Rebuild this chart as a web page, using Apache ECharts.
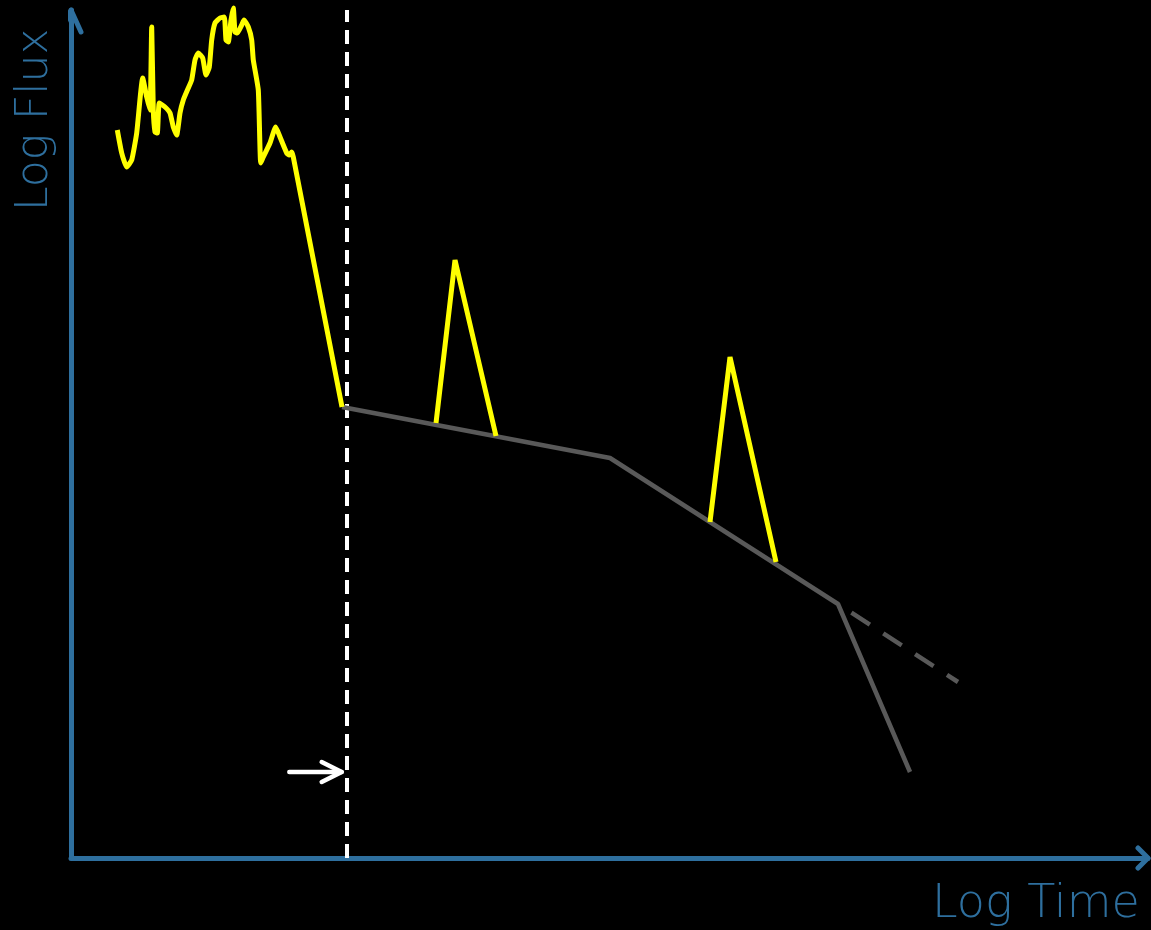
<!DOCTYPE html>
<html>
<head>
<meta charset="utf-8">
<title>Log Flux vs Log Time</title>
<script src="https://cdn.jsdelivr.net/npm/echarts@6/dist/echarts.min.js"></script>
<style>
  html, body { margin: 0; padding: 0; background: #000; }
  #chart { width: 1151px; height: 930px; }
</style>
</head>
<body>
<div id="chart"></div>
<script>
// Schematic light curve: log time on x, log flux on y (arbitrary units).
const X_MAX = 10.77;
const Y_MAX = 8.48;

// Prompt emission: erratic, spiky yellow curve followed by the steep decay.
const promptTime = [0.463, 0.507, 0.557, 0.607, 0.657, 0.717, 0.757, 0.79, 0.807, 0.823, 0.84, 0.863, 0.883, 0.94, 0.99, 1.023, 1.057, 1.09, 1.123, 1.173, 1.207, 1.24, 1.273, 1.317, 1.35, 1.383, 1.407, 1.44, 1.49, 1.533, 1.55, 1.573, 1.60, 1.623, 1.64, 1.663, 1.707, 1.73, 1.773, 1.807, 1.823, 1.873, 1.897, 1.923, 1.99, 2.047, 2.09, 2.157, 2.183, 2.207, 2.223, 2.71];
const promptFlux = [7.28, 7.05, 6.91, 6.98, 7.25, 7.80, 7.61, 7.48, 8.31, 7.48, 7.26, 7.25, 7.55, 7.51, 7.45, 7.31, 7.23, 7.45, 7.58, 7.70, 7.78, 7.98, 8.05, 8.00, 7.83, 7.91, 8.18, 8.35, 8.40, 8.41, 8.18, 8.16, 8.38, 8.50, 8.26, 8.25, 8.33, 8.38, 8.31, 8.18, 7.98, 7.68, 6.95, 7.01, 7.15, 7.31, 7.21, 7.05, 7.03, 7.06, 7.01, 4.51];

// Afterglow: broken power law (plateau, normal decay, jet break).
const afterglowTime = [2.71, 5.39, 7.67, 8.39];
const afterglowFlux = [4.51, 4.00, 2.54, 0.86];

// Continuation of the normal decay without a jet break.
const noBreakTime = [7.67, 8.87];
const noBreakFlux = [2.54, 1.76];

// X-ray flares on top of the afterglow.
const flare1Time = [3.65, 3.84, 4.25];
const flare1Flux = [4.35, 5.98, 4.22];
const flare2Time = [6.39, 6.59, 7.05];
const flare2Flux = [3.36, 5.01, 2.96];

// End of prompt emission marker.
const markerTime = 2.76;
const arrowTime = [2.183, 2.707];
const arrowFlux = 0.86;

const AXIS_BLUE = '#2E6F9E';
const YELLOW = '#FFFF00';
const GREY = '#595959';

const zip = (xs, ys) => xs.map((x, i) => [x, ys[i]]);

const chart = echarts.init(document.getElementById('chart'), null, { renderer: 'canvas' });

chart.setOption({
  backgroundColor: '#000000',
  animation: false,
  grid: { left: 71, right: 3, top: 10, bottom: 72 },
  xAxis: {
    type: 'value', min: 0, max: X_MAX,
    axisLine: { show: true, onZero: false, lineStyle: { color: AXIS_BLUE, width: 5 } },
    axisTick: { show: false }, axisLabel: { show: false }, splitLine: { show: false }
  },
  yAxis: {
    type: 'value', min: 0, max: Y_MAX,
    axisLine: { show: true, onZero: false, lineStyle: { color: AXIS_BLUE, width: 5 } },
    axisTick: { show: false }, axisLabel: { show: false }, splitLine: { show: false }
  },
  graphic: [
    {
      type: 'text', left: 932, top: 882,
      style: { text: 'Log Time', fill: AXIS_BLUE, font: '200 46px "DejaVu Sans", sans-serif' }
    },
    {
      type: 'text', x: 14, y: 211, rotation: Math.PI / 2,
      style: { text: 'Log Flux', fill: AXIS_BLUE, font: '200 44px "DejaVu Sans", sans-serif', textVerticalAlign: 'top' }
    }
  ],
  series: [
    // open chevron arrowheads on both axes
    {
      type: 'line', clip: false, silent: true, symbol: 'none',
      lineStyle: { color: AXIS_BLUE, width: 5, cap: 'round', join: 'round' },
      data: [[-0.10, Y_MAX - 0.22], [0, Y_MAX], [0.10, Y_MAX - 0.22]]
    },
    {
      type: 'line', clip: false, silent: true, symbol: 'none',
      lineStyle: { color: AXIS_BLUE, width: 5, cap: 'round', join: 'round' },
      data: [[X_MAX - 0.10, 0.10], [X_MAX, 0], [X_MAX - 0.10, -0.10]]
    },
    // vertical dashed marker
    {
      type: 'line', clip: false, silent: true, symbol: 'none',
      lineStyle: { color: '#FFFFFF', width: 4, type: [14, 8] },
      data: [[markerTime, 0], [markerTime, Y_MAX]]
    },
    // white arrow pointing at the marker
    {
      type: 'line', clip: false, silent: true, symbol: 'none',
      lineStyle: { color: '#FFFFFF', width: 4.5, cap: 'round', join: 'round' },
      data: [[arrowTime[0], arrowFlux], [arrowTime[1], arrowFlux]]
    },
    {
      type: 'line', clip: false, silent: true, symbol: 'none',
      lineStyle: { color: '#FFFFFF', width: 4.5, cap: 'round', join: 'round' },
      data: [[arrowTime[1] - 0.2, arrowFlux + 0.1], [arrowTime[1], arrowFlux], [arrowTime[1] - 0.2, arrowFlux - 0.1]]
    },
    // afterglow segments
    {
      type: 'line', clip: false, silent: true, symbol: 'none',
      lineStyle: { color: GREY, width: 4.5 },
      data: zip(afterglowTime, afterglowFlux)
    },
    {
      type: 'line', clip: false, silent: true, symbol: 'none',
      lineStyle: { color: GREY, width: 4.5, type: [22, 16], dashOffset: 22 },
      data: zip(noBreakTime, noBreakFlux)
    },
    // flares
    {
      type: 'line', clip: false, silent: true, symbol: 'none',
      lineStyle: { color: YELLOW, width: 5 },
      data: zip(flare1Time, flare1Flux)
    },
    {
      type: 'line', clip: false, silent: true, symbol: 'none',
      lineStyle: { color: YELLOW, width: 5 },
      data: zip(flare2Time, flare2Flux)
    },
    // prompt emission
    {
      type: 'line', clip: false, silent: true, symbol: 'none', smooth: 0.15,
      lineStyle: { color: YELLOW, width: 5, join: 'round' },
      data: zip(promptTime, promptFlux)
    }
  ]
});
</script>
</body>
</html>
